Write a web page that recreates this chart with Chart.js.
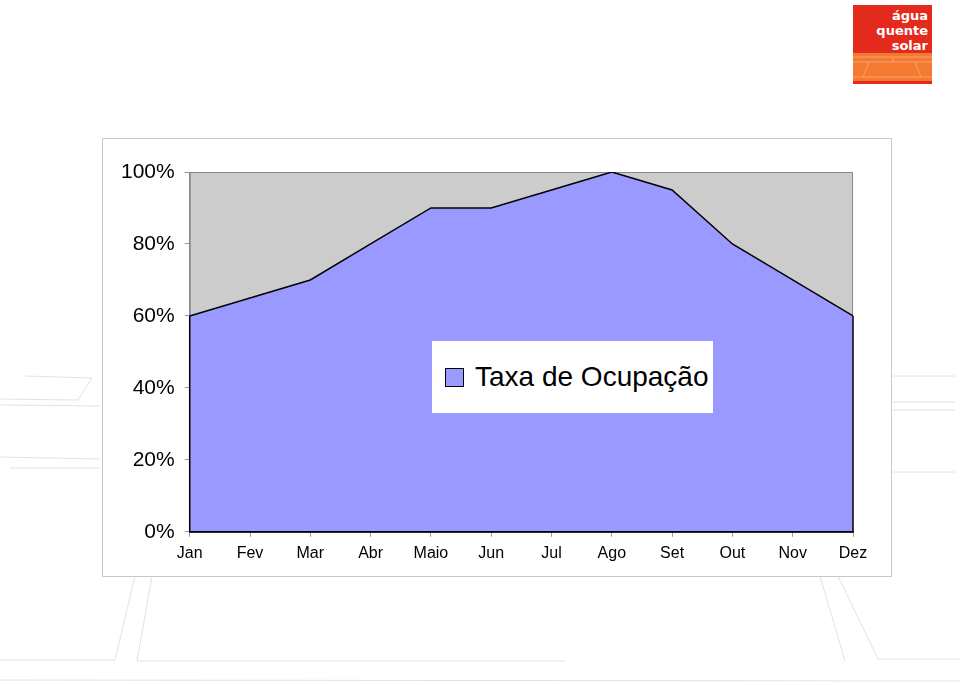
<!DOCTYPE html>
<html>
<head>
<meta charset="utf-8">
<script src="https://cdn.jsdelivr.net/npm/chart.js@4"></script>
<style>
  body { margin: 0; width: 960px; height: 685px; background: #fff; position: relative; overflow: hidden; font-family: "Liberation Sans", Arial, sans-serif; }
  #deco { position: absolute; left: 0; top: 0; }
  #box { position: absolute; left: 102px; top: 138px; width: 788px; height: 437px; border: 1px solid #c8c8c8; background: #fff; }
  #legend { position: absolute; left: 432px; top: 341px; width: 281px; height: 72px; background: #fff; display: flex; align-items: center; }
  #legend .sw { width: 17px; height: 17px; border: 1px solid #000; background: #9999ff; margin-left: 13px; margin-right: 11px; }
  #legend span { font-size: 28px; color: #000; }
  #logo { position: absolute; left: 853px; top: 5px; width: 79px; height: 79px; background: #e42a1c; overflow: hidden; }
  #logo .t { position: absolute; right: 4px; top: 3px; color: #fff; font: bold 13px "DejaVu Sans", sans-serif; line-height: 15px; text-align: right; }
  #logo svg { position: absolute; left: 0; top: 0; }
</style>
</head>
<body>
<svg id="deco" width="960" height="685">
  <g stroke="#e2e2e2" stroke-width="1" fill="none">
    <polyline points="25,376 92,378 78,400 0,399"/>
    <line x1="0" y1="405" x2="100" y2="406"/>
    <line x1="0" y1="457" x2="100" y2="459"/>
    <line x1="10" y1="468" x2="100" y2="468"/>
    <line x1="893" y1="376" x2="955" y2="376"/>
    <line x1="893" y1="402" x2="955" y2="402"/>
    <line x1="893" y1="410" x2="955" y2="410"/>
    <line x1="893" y1="472" x2="955" y2="472"/>
    <line x1="135" y1="576" x2="115" y2="660"/>
    <line x1="152" y1="576" x2="137" y2="661"/>
    <line x1="0" y1="660" x2="115" y2="660"/>
    <line x1="137" y1="661" x2="565" y2="661"/>
    <line x1="820" y1="576" x2="845" y2="661"/>
    <line x1="838" y1="576" x2="878" y2="659"/>
    <line x1="878" y1="659" x2="960" y2="659"/>
    <line x1="0" y1="680" x2="960" y2="681"/>
  </g>
</svg>
<div id="logo">
  <svg width="79" height="79">
    <rect x="0" y="48" width="79" height="28" fill="#f47a32"/>
    <g stroke="#f9a070" stroke-width="1" fill="none">
      <line x1="0" y1="52" x2="79" y2="52"/>
      <line x1="0" y1="57" x2="79" y2="57"/>
      <line x1="0" y1="72" x2="79" y2="72"/>
      <line x1="16" y1="57" x2="10" y2="72"/>
      <line x1="62" y1="57" x2="68" y2="72"/>
      <line x1="40" y1="52" x2="40" y2="57"/>
    </g>
  </svg>
  <div class="t">água<br>quente<br>solar</div>
</div>
<div id="box"><canvas id="ocupacaoChart" width="788" height="437"></canvas></div>
<div id="legend"><div class="sw"></div><span id="legendText"></span></div>
<script>
var meses = ["Jan", "Fev", "Mar", "Abr", "Maio", "Jun", "Jul", "Ago", "Set", "Out", "Nov", "Dez"];
var taxaOcupacao = [60, 65, 70, 80, 90, 90, 95, 100, 95, 80, 70, 60];
var serieNome = "Taxa de Ocupação";

document.getElementById("legendText").textContent = serieNome;

// fundo cinza da área do gráfico + contorno da área
var plotArea = {
    id: "plotArea",
    beforeDraw: function (chart) {
        var a = chart.chartArea, ctx = chart.ctx;
        ctx.save();
        ctx.fillStyle = "#cccccc";
        ctx.fillRect(a.left, a.top, a.right - a.left, a.bottom - a.top);
        ctx.strokeStyle = "#888888";
        ctx.lineWidth = 1;
        ctx.strokeRect(a.left + 0.5, a.top + 0.5, a.right - a.left - 1, a.bottom - a.top);
        ctx.restore();
    },
    afterDatasetsDraw: function (chart) {
        var pts = chart.getDatasetMeta(0).data;
        var base = chart.scales.y.getPixelForValue(0);
        var ctx = chart.ctx;
        var first = pts[0], last = pts[pts.length - 1];
        ctx.save();
        ctx.strokeStyle = "#000";
        ctx.lineWidth = 1.5;
        ctx.beginPath();
        ctx.moveTo(first.x, first.y);
        ctx.lineTo(first.x, base);
        ctx.lineTo(last.x, base);
        ctx.lineTo(last.x, last.y);
        ctx.stroke();
        ctx.restore();
    }
};

var ctx = document.getElementById("ocupacaoChart").getContext("2d");
new Chart(ctx, {
    type: 'line',
    data: {
        labels: meses,
        datasets: [{
            label: serieNome,
            data: taxaOcupacao,
            fill: 'origin',
            backgroundColor: "#9999ff",
            borderColor: "#000",
            borderWidth: 1.5,
            pointRadius: 0,
            tension: 0
        }]
    },
    options: {
        responsive: false,
        animation: false,
        layout: { padding: { left: 8, right: 38, top: 33, bottom: 6 } },
        plugins: { legend: { display: false }, tooltip: { enabled: false } },
        scales: {
            x: {
                offset: false,
                grid: { drawOnChartArea: false, drawTicks: true, tickLength: 5, color: "#999" },
                border: { color: "#000", width: 1.5 },
                ticks: { color: "#000", font: { family: "Liberation Sans", size: 16 }, padding: 7, maxRotation: 0, autoSkip: false }
            },
            y: {
                min: 0,
                max: 100,
                grid: { drawOnChartArea: false, drawTicks: true, tickLength: 5, color: "#999" },
                border: { color: "#888" },
                ticks: {
                    stepSize: 20,
                    color: "#000",
                    font: { family: "Liberation Sans", size: 21 },
                    padding: 10,
                    callback: function (v) { return v + "%"; }
                }
            }
        }
    },
    plugins: [plotArea]
});
</script>
</body>
</html>
